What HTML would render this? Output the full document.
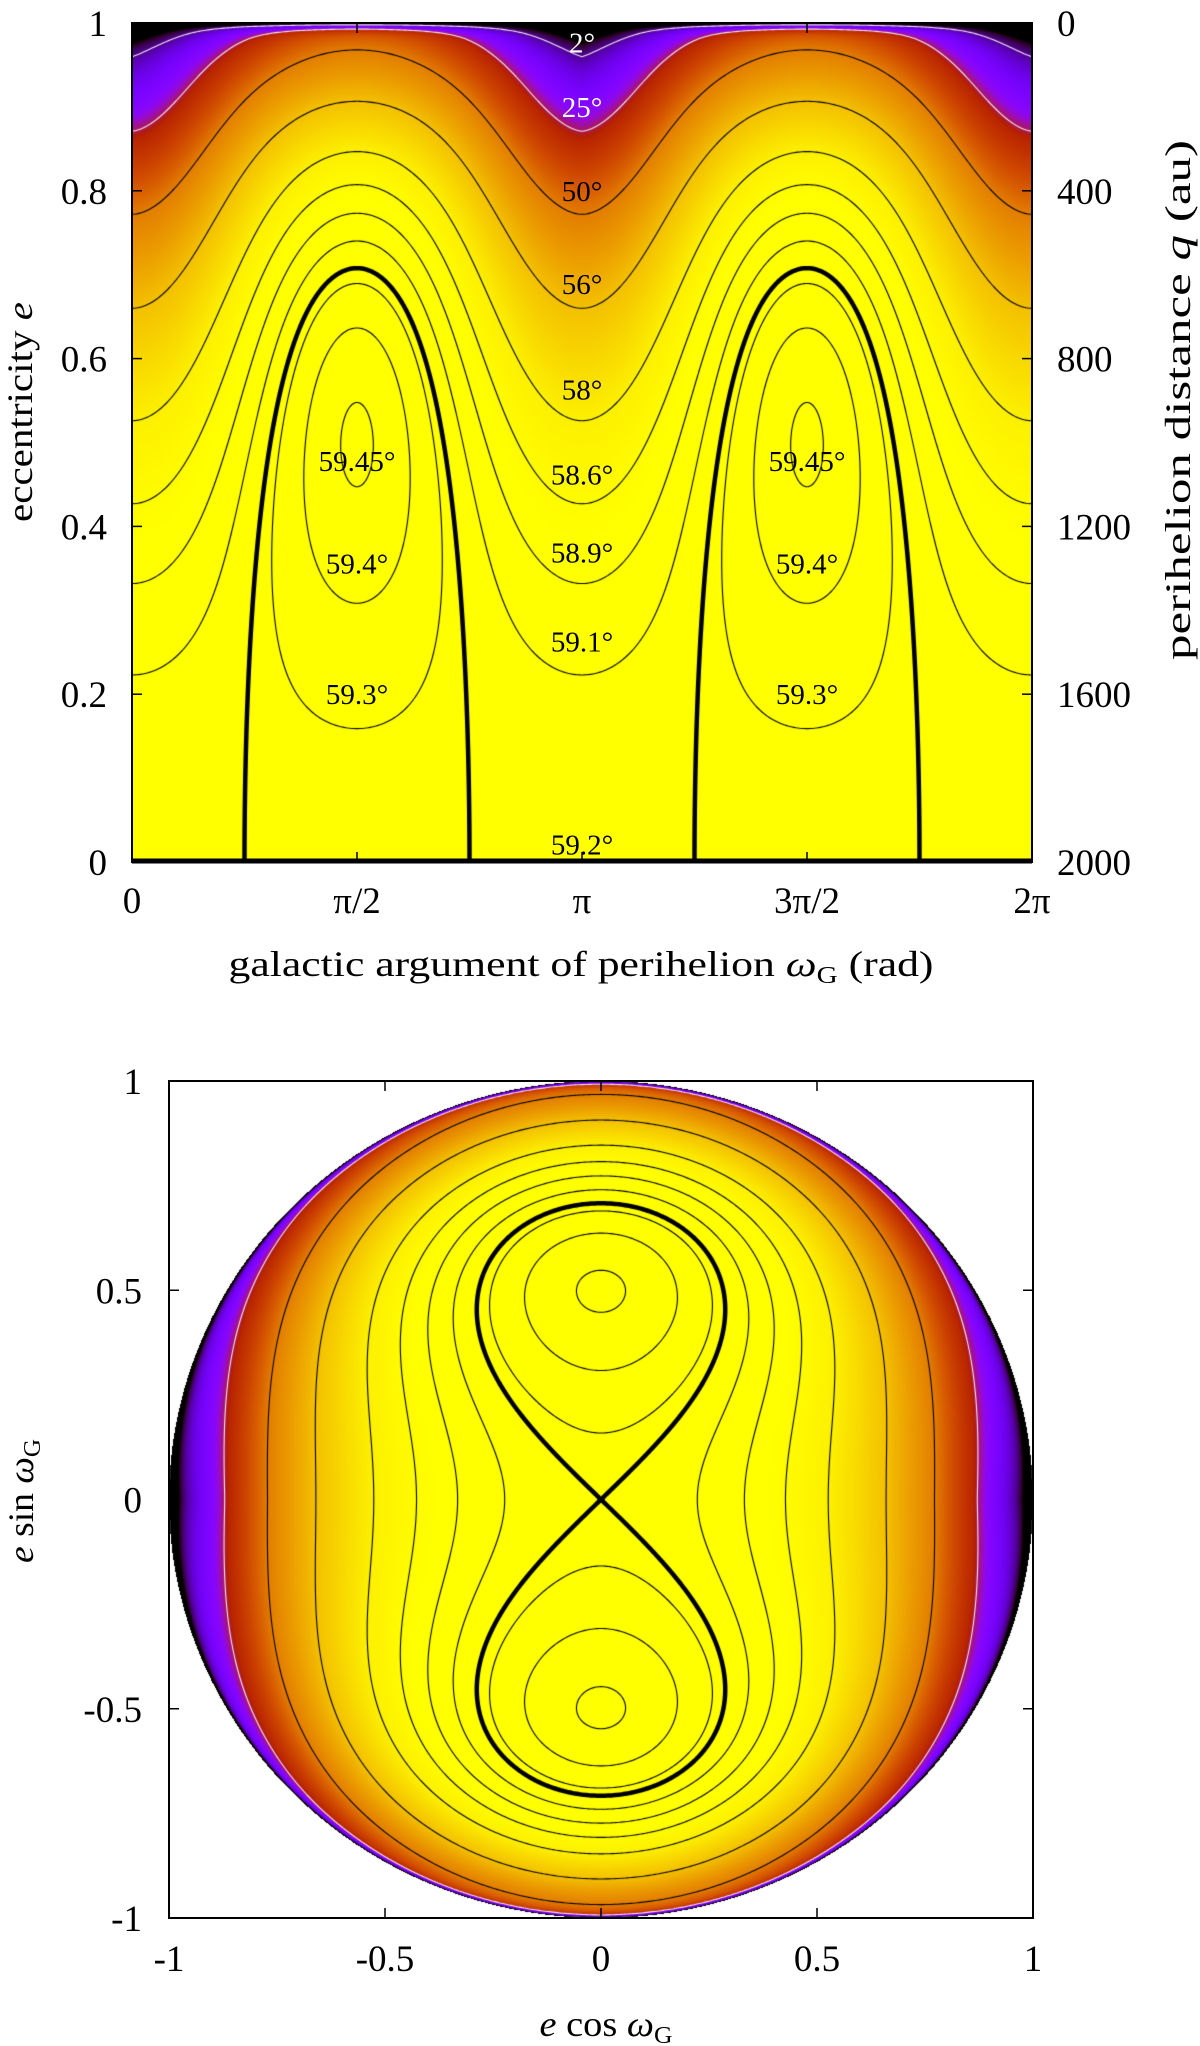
<!DOCTYPE html>
<html><head><meta charset="utf-8"><style>
html,body{margin:0;padding:0;background:#fff}
#root{position:relative;width:1200px;height:2046px;overflow:hidden;background:#fff}
canvas{position:absolute}
svg{position:absolute;left:0;top:0}
text{font-family:"Liberation Serif",serif;fill:#000}
</style></head><body>
<div id="root">
<canvas id="c1" width="900" height="839" style="left:132px;top:23px"></canvas>
<canvas id="c2" width="864" height="837" style="left:169px;top:1081px"></canvas>
<svg id="ov" width="1200" height="2046"></svg>
</div>
<script>
// ---- data ----
const levelValues = [-1.134, -0.874, -0.667, -0.4735, -0.292, -0.189, -0.1126, -0.0502, 0, 0.024, 0.077, 0.120];
const levelLabels = ["2°","25°","50°","56°","58°","58.6°","58.9°","59.1°","59.2°","59.3°","59.4°","59.45°"];
const levelStyle  = ["white","white","thin","thin","thin","thin","thin","thin","thick","thin","thin","thin"];
const labelOmegaPi = ["1","1","1","1","1","1","1","1","1","0.5,1.5","0.5,1.5","0.5,1.5"];
const labelEcc    = [0.977, 0.90, 0.80, 0.689, 0.563, 0.462, 0.369, 0.263, 0.021, 0.20, 0.356, 0.478];
const paletteF = [-1.25, -1.13, -0.955, -0.918, -0.849, -0.667, -0.4735, -0.292, -0.15];
const paletteT = [0, 0.1, 0.25, 0.3, 0.53, 0.79, 0.91, 0.98, 1];
const topXTicks = ["0","π/2","π","3π/2","2π"];
const topXTickVals = [0, 0.5, 1, 1.5, 2];
const topYTicks = [0, 0.2, 0.4, 0.6, 0.8, 1];
const topYTickLabels = ["0","0.2","0.4","0.6","0.8","1"];
const qTicks = [0, 400, 800, 1200, 1600, 2000];
const botTicks = [-1, -0.5, 0, 0.5, 1];
const botTickLabels = ["-1","-0.5","0","0.5","1"];

// ---- model surface (polar form) ----
function F(u, v) {
  const e2 = u*u + v*v;
  if (e2 === 0) return 0;
  const e = Math.sqrt(e2);
  const s2 = v*v/e2;
  const a = -e2 - 0.2*e2*e2 - 0.5*Math.pow(e2, 30);
  const ep = e - 0.045*Math.pow(e, 12);
  const h = ep*ep - 2*ep*ep*ep*ep - 0.6*Math.pow(e2, 100);
  const gam = 1 - 0.6*Math.pow(e2, 4);
  const S = Math.pow(s2, gam);
  return a + (h - a)*S;
}
function tOf(f) {
  if (f <= paletteF[0]) return 0;
  for (let k = 1; k < paletteF.length; k++) {
    if (f <= paletteF[k]) {
      const a = (f - paletteF[k-1]) / (paletteF[k] - paletteF[k-1]);
      return paletteT[k-1] + a * (paletteT[k] - paletteT[k-1]);
    }
  }
  return 1;
}
function pal(t) {
  const r = Math.sqrt(t), g = t*t*t, b = Math.max(0, Math.sin(2*Math.PI*t));
  return [Math.round(255*r), Math.round(255*g), Math.round(255*b)];
}

// ---- axis functions ----
const TP = {x0:132, x1:1032, y0:862, y1:23};
const tx = w => TP.x0 + (w/(2*Math.PI))*(TP.x1-TP.x0);
const ty = e => TP.y0 - e*(TP.y0-TP.y1);
const BP = {x0:169, x1:1033, y0:1918, y1:1081};
const bx = u => BP.x0 + (u+1)/2*(BP.x1-BP.x0);
const by = v => BP.y0 - (v+1)/2*(BP.y0-BP.y1);

function heat(canvas, W, H, map) {
  const ctx = canvas.getContext('2d');
  const img = ctx.createImageData(W, H);
  for (let j = 0; j < H; j++) for (let i = 0; i < W; i++) {
    const uv = map(i+0.5, j+0.5);
    const p = (j*W+i)*4;
    if (!uv) { img.data[p+3] = 0; continue; }
    const c = pal(tOf(F(uv[0], uv[1])));
    img.data[p]=c[0]; img.data[p+1]=c[1]; img.data[p+2]=c[2]; img.data[p+3]=255;
  }
  ctx.putImageData(img, 0, 0);
  return ctx;
}
function contour(ctx, W, H, step, map, level, style) {
  const nx = Math.ceil(W/step)+1, ny = Math.ceil(H/step)+1;
  const g = new Float64Array(nx*ny);
  for (let j = 0; j < ny; j++) for (let i = 0; i < nx; i++) {
    const uv = map(i*step, j*step, true);
    g[j*nx+i] = uv ? F(uv[0], uv[1]) - level : NaN;
  }
  ctx.beginPath();
  for (let j = 0; j < ny-1; j++) for (let i = 0; i < nx-1; i++) {
    const a=g[j*nx+i], b=g[j*nx+i+1], c=g[(j+1)*nx+i+1], d=g[(j+1)*nx+i];
    if (isNaN(a)||isNaN(b)||isNaN(c)||isNaN(d)) continue;
    const X=i*step, Y=j*step, pts=[];
    if ((a>0)!==(b>0)) pts.push([X+step*a/(a-b), Y]);
    if ((b>0)!==(c>0)) pts.push([X+step, Y+step*b/(b-c)]);
    if ((c>0)!==(d>0)) pts.push([X+step*(1-c/(c-d)), Y+step]);
    if ((d>0)!==(a>0)) pts.push([X, Y+step*(1-d/(d-a))]);
    if (pts.length===2){ctx.moveTo(pts[0][0],pts[0][1]);ctx.lineTo(pts[1][0],pts[1][1]);}
    else if (pts.length===4){ctx.moveTo(pts[0][0],pts[0][1]);ctx.lineTo(pts[1][0],pts[1][1]);ctx.moveTo(pts[2][0],pts[2][1]);ctx.lineTo(pts[3][0],pts[3][1]);}
  }
  ctx.strokeStyle = style==="white" ? "#f4e8f4" : "#000";
  ctx.lineWidth = style==="thick" ? 4.5 : 1.1;
  ctx.lineCap = "round";
  ctx.stroke();
}

// top plot
const mapTop = (i, j) => { const w=i/900*2*Math.PI, e=1-j/839; return [e*Math.cos(w), e*Math.sin(w)]; };
const c1 = heat(document.getElementById('c1'), 900, 839, mapTop);
for (let k = 0; k < levelValues.length; k++) contour(c1, 900, 839, 2, mapTop, levelValues[k], levelStyle[k]);

// bottom plot
const mapBot = (i, j, loose) => {
  const u=-1+2*i/864, v=1-2*j/837;
  if (u*u+v*v > (loose?1.02:1)) return null;
  return [u, v];
};
const c2 = heat(document.getElementById('c2'), 864, 837, mapBot);
for (let k = 1; k < levelValues.length; k++) contour(c2, 864, 837, 2, mapBot, levelValues[k], levelStyle[k]);

// ---- SVG overlay ----
const NS = "http://www.w3.org/2000/svg";
const svg = document.getElementById('ov');
function el(tag, attrs, txt) {
  const e = document.createElementNS(NS, tag);
  for (const k in attrs) e.setAttribute(k, attrs[k]);
  if (txt !== undefined) e.textContent = txt;
  svg.appendChild(e);
  return e;
}
let t;
t = el('line', {x1:TP.x0, y1:TP.y0-1, x2:TP.x1, y2:TP.y0-1, stroke:'#000', 'stroke-width':5});


t = el('rect', {x:TP.x0, y:TP.y1, width:TP.x1-TP.x0, height:TP.y0-TP.y1, fill:'none', stroke:'#000', 'stroke-width':2});


t = el('rect', {x:BP.x0, y:BP.y1, width:BP.x1-BP.x0, height:BP.y0-BP.y1, fill:'none', stroke:'#000', 'stroke-width':2});



topXTickVals.forEach((v, k) => {
  const x = tx(v*Math.PI);
  el('line', {x1:x, y1:TP.y0, x2:x, y2:TP.y0-10, stroke:'#000', 'stroke-width':1.5});
  el('line', {x1:x, y1:TP.y1, x2:x, y2:TP.y1+10, stroke:'#000', 'stroke-width':1.5});
  t = el('text', {x:x, y:913, 'font-size':37, 'text-anchor':'middle'}, topXTicks[k]);
  
  
});
topYTicks.forEach((v, k) => {
  const y = ty(v);
  el('line', {x1:TP.x0, y1:y, x2:TP.x0+10, y2:y, stroke:'#000', 'stroke-width':1.5});
  t = el('text', {x:107, y:y+13, 'font-size':37, 'text-anchor':'end'}, topYTickLabels[k]);
  
  
});
qTicks.forEach(q => {
  const y = ty(1 - q/2000);
  el('line', {x1:TP.x1, y1:y, x2:TP.x1-10, y2:y, stroke:'#000', 'stroke-width':1.5});
  t = el('text', {x:1057, y:y+13, 'font-size':37, 'text-anchor':'start'}, String(q));
  
  
});
t = el('text', {x:581, y:976, 'font-size':36, 'text-anchor':'middle', textLength:705, lengthAdjust:'spacingAndGlyphs'});
t.innerHTML = 'galactic argument of perihelion <tspan font-style="italic">ω</tspan><tspan font-size="24" dy="7">G</tspan><tspan dy="-7"> (rad)</tspan>';


t = el('text', {x:0, y:0, 'font-size':36, 'text-anchor':'middle', textLength:220, lengthAdjust:'spacingAndGlyphs', transform:'translate(32,412) rotate(-90)'});
t.innerHTML = 'eccentricity <tspan font-style="italic">e</tspan>';


t = el('text', {x:0, y:0, 'font-size':36, 'text-anchor':'middle', textLength:520, lengthAdjust:'spacingAndGlyphs', transform:'translate(1190,400) rotate(-90)'});
t.innerHTML = 'perihelion distance <tspan font-style="italic">q</tspan> (au)';



levelLabels.forEach((lab, k) => {
  labelOmegaPi[k].split(',').forEach(wp => {
    const x = tx(parseFloat(wp)*Math.PI), y = ty(labelEcc[k]);
    t = el('text', {x:x, y:y+10, 'font-size':29, 'text-anchor':'middle', style: levelStyle[k]==='white' ? 'fill:#fff' : 'fill:#000'}, lab);
    
    
  });
});

botTicks.forEach((v, k) => {
  const x = bx(v), y = by(v);
  el('line', {x1:x, y1:BP.y0, x2:x, y2:BP.y0-10, stroke:'#000', 'stroke-width':1.5});
  el('line', {x1:x, y1:BP.y1, x2:x, y2:BP.y1+10, stroke:'#000', 'stroke-width':1.5});
  el('line', {x1:BP.x0, y1:y, x2:BP.x0+10, y2:y, stroke:'#000', 'stroke-width':1.5});
  el('line', {x1:BP.x1, y1:y, x2:BP.x1-10, y2:y, stroke:'#000', 'stroke-width':1.5});
  t = el('text', {x:x, y:1971, 'font-size':37, 'text-anchor':'middle'}, botTickLabels[k]);
  
  
  t = el('text', {x:142, y:by(v)+13, 'font-size':37, 'text-anchor':'end'}, botTickLabels[k]);
  
  
});
t = el('text', {x:606, y:2036, 'font-size':36, 'text-anchor':'middle', textLength:133, lengthAdjust:'spacingAndGlyphs'});
t.innerHTML = '<tspan font-style="italic">e</tspan> cos <tspan font-style="italic">ω</tspan><tspan font-size="24" dy="7">G</tspan>';


t = el('text', {x:0, y:0, 'font-size':36, 'text-anchor':'middle', textLength:124, lengthAdjust:'spacingAndGlyphs', transform:'translate(33,1501) rotate(-90)'});
t.innerHTML = '<tspan font-style="italic">e</tspan> sin <tspan font-style="italic">ω</tspan><tspan font-size="24" dy="7">G</tspan>';


</script>
</body></html>
